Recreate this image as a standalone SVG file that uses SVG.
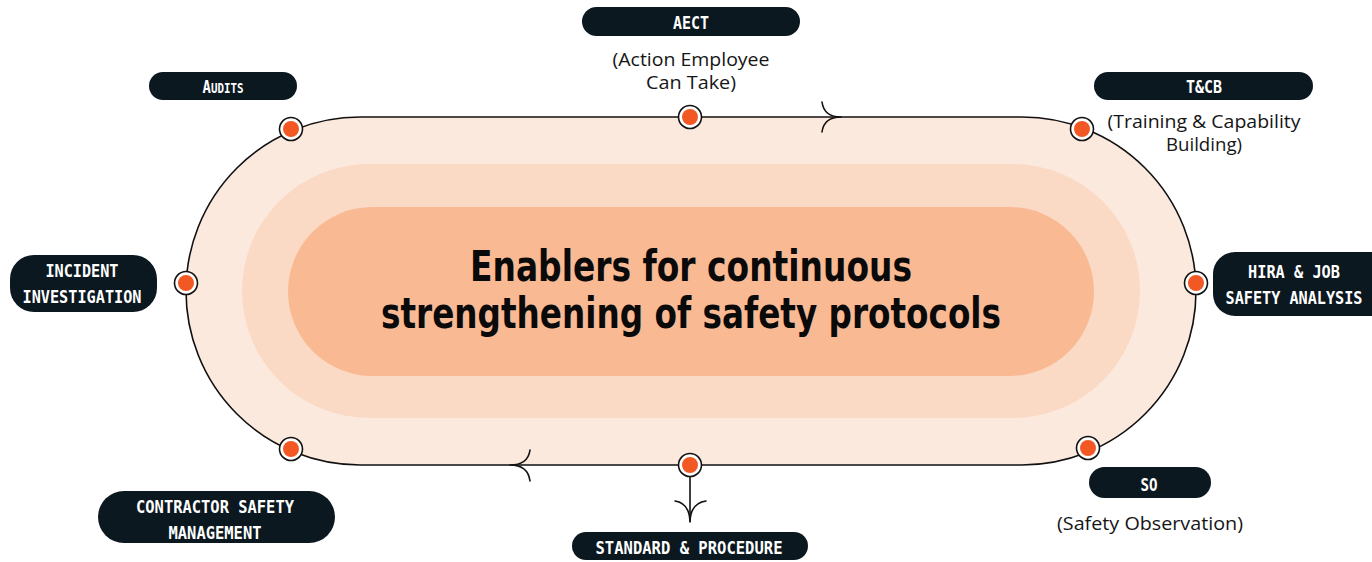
<svg xmlns="http://www.w3.org/2000/svg" width="1372" height="562" viewBox="0 0 1372 562">
<style>
.pill{fill:#0B1820}
.lbl{font-family:"DejaVu Sans Mono","Liberation Mono",monospace;font-weight:bold;font-size:18px;fill:#FFFFFF;text-anchor:middle}
.sub{font-family:"Open Sans","Noto Sans","Liberation Sans",sans-serif;font-weight:400;font-size:17.5px;fill:#151515;text-anchor:middle}
.title{font-family:"DejaVu Sans","Liberation Sans",sans-serif;font-stretch:condensed;font-weight:bold;font-size:42px;fill:#0A0A0A;text-anchor:middle}
.ring{fill:#FFFFFF;stroke:#111111;stroke-width:1.6}
.dot{fill:#F25824}
.conn{fill:none;stroke:#111111;stroke-width:1.6;stroke-linecap:round}
</style>
<defs>
<g id="marker-dot"><circle class="ring" r="11.5"/><circle class="dot" r="8"/></g>
</defs>
<rect width="1372" height="562" fill="#FFFFFF"/>
<g id="core">
<rect x="186" y="117" width="1010" height="348" rx="174" fill="#FCE9DE" stroke="#111111" stroke-width="1.6"/>
<rect x="242" y="164" width="898" height="254" rx="127" fill="#FBDAC5"/>
<rect x="288" y="207" width="806" height="169" rx="84.5" fill="#F9B993"/>
<text class="title" x="691" y="281" textLength="442" lengthAdjust="spacingAndGlyphs">Enablers for continuous</text>
<text class="title" x="691" y="328" textLength="620" lengthAdjust="spacingAndGlyphs">strengthening of safety protocols</text>
</g>
<g id="connectors">
<path class="conn" d="M822,102 Q824,117 841,117 M822,132 Q824,117 841,117"/>
<path class="conn" d="M530,450 Q528,465 510,465 M530,481 Q528,465 510,465"/>
<path class="conn" d="M690,477 L690,522"/>
<path class="conn" d="M675,501 Q689,503 690,521 M706,501 Q691,503 690,521"/>
</g>
<g id="node-audits">
<use href="#marker-dot" x="291" y="129"/>
<rect class="pill" x="149" y="72" width="148" height="28" rx="14"/>
<text class="lbl" x="223" y="93" textLength="41" lengthAdjust="spacingAndGlyphs">A<tspan font-size="14">UDITS</tspan></text>
</g>
<g id="node-aect">
<use href="#marker-dot" x="690" y="117"/>
<rect class="pill" x="582" y="7" width="218" height="29" rx="14.5"/>
<text class="lbl" x="691" y="29" textLength="36" lengthAdjust="spacingAndGlyphs">AECT</text>
<text class="sub" x="691" y="66" textLength="157" lengthAdjust="spacingAndGlyphs">(Action Employee</text>
<text class="sub" x="691" y="89" textLength="90" lengthAdjust="spacingAndGlyphs">Can Take)</text>
</g>
<g id="node-tcb">
<use href="#marker-dot" x="1082" y="129"/>
<rect class="pill" x="1094" y="72" width="219" height="28" rx="14"/>
<text class="lbl" x="1204" y="93" textLength="36" lengthAdjust="spacingAndGlyphs">T&amp;CB</text>
<text class="sub" x="1204" y="128" textLength="193" lengthAdjust="spacingAndGlyphs">(Training &amp; Capability</text>
<text class="sub" x="1204" y="151" textLength="76" lengthAdjust="spacingAndGlyphs">Building)</text>
</g>
<g id="node-hira">
<use href="#marker-dot" x="1196" y="283"/>
<rect class="pill" x="1213" y="252" width="180" height="64" rx="22"/>
<text class="lbl" x="1294" y="278" textLength="92" lengthAdjust="spacingAndGlyphs">HIRA &amp; JOB</text>
<text class="lbl" x="1294" y="304" textLength="137" lengthAdjust="spacingAndGlyphs">SAFETY ANALYSIS</text>
</g>
<g id="node-so">
<use href="#marker-dot" x="1088" y="448"/>
<rect class="pill" x="1089" y="467" width="122" height="31" rx="15.5"/>
<text class="lbl" x="1149" y="491" textLength="17" lengthAdjust="spacingAndGlyphs">SO</text>
<text class="sub" x="1150" y="530" textLength="186" lengthAdjust="spacingAndGlyphs">(Safety Observation)</text>
</g>
<g id="node-standard">
<use href="#marker-dot" x="690" y="465"/>
<rect class="pill" x="572" y="532" width="236" height="28" rx="14"/>
<text class="lbl" x="689" y="554" textLength="187" lengthAdjust="spacingAndGlyphs">STANDARD &amp; PROCEDURE</text>
</g>
<g id="node-contractor">
<use href="#marker-dot" x="291" y="449"/>
<rect class="pill" x="98" y="491" width="237" height="52" rx="26"/>
<text class="lbl" x="215" y="513" textLength="158" lengthAdjust="spacingAndGlyphs">CONTRACTOR SAFETY</text>
<text class="lbl" x="215" y="539" textLength="93" lengthAdjust="spacingAndGlyphs">MANAGEMENT</text>
</g>
<g id="node-incident">
<use href="#marker-dot" x="186" y="283"/>
<rect class="pill" x="10" y="255" width="147" height="57" rx="24"/>
<text class="lbl" x="82" y="277" textLength="73" lengthAdjust="spacingAndGlyphs">INCIDENT</text>
<text class="lbl" x="82" y="303" textLength="119" lengthAdjust="spacingAndGlyphs">INVESTIGATION</text>
</g>
</svg>
